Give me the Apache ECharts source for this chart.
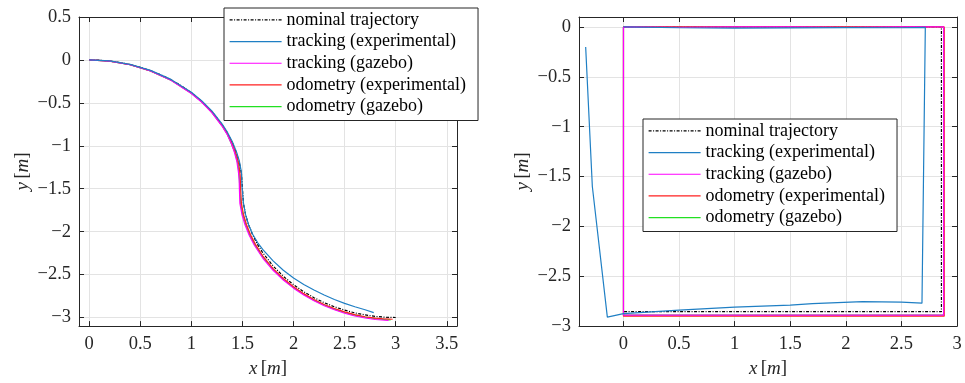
<!DOCTYPE html>
<html>
<head>
<meta charset="utf-8">
<script src="https://cdn.jsdelivr.net/npm/echarts@6/dist/echarts.min.js"></script>
<style>html,body{margin:0;padding:0;background:#fff}#c{width:965px;height:383px}</style>
</head>
<body>
<div id="c"></div>
<script>
// ---------- DATA ----------
const seriesNames = ['nominal trajectory','tracking (experimental)','tracking (gazebo)','odometry (experimental)','odometry (gazebo)'];

// left panel ticks
const leftXTicks = [0,0.5,1,1.5,2,2.5,3,3.5];
const leftYTicks = [-3,-2.5,-2,-1.5,-1,-0.5,0,0.5];
// right panel ticks
const rightXTicks = [0,0.5,1,1.5,2,2.5,3];
const rightYTicks = [-3,-2.5,-2,-1.5,-1,-0.5,0];

// left panel (S-curve) – [x, y]
const leftNominal = [[0,0],[0.1,-0.003],[0.2,-0.013],[0.3,-0.03],[0.4,-0.054],[0.5,-0.086],[0.6,-0.125],[0.7,-0.173],[0.8,-0.231],[0.9,-0.3],[1.0,-0.382],[1.1,-0.48],[1.2,-0.6],[1.3,-0.752],[1.35,-0.846],[1.4,-0.962],[1.44,-1.08],[1.47,-1.2],[1.49,-1.327],[1.5,-1.5],[1.51,-1.673],[1.53,-1.8],[1.56,-1.92],[1.6,-2.038],[1.65,-2.154],[1.7,-2.248],[1.8,-2.4],[1.9,-2.52],[2.0,-2.618],[2.1,-2.7],[2.2,-2.769],[2.3,-2.827],[2.4,-2.875],[2.5,-2.914],[2.6,-2.946],[2.7,-2.97],[2.8,-2.987],[2.9,-2.997],[3.0,-3.0]];
const leftTrackExp = [[0,0],[0.2,-0.012],[0.4,-0.052],[0.6,-0.122],[0.8,-0.227],[1.0,-0.377],[1.1,-0.474],[1.2,-0.593],[1.3,-0.744],[1.35,-0.836],[1.4,-0.95],[1.44,-1.065],[1.47,-1.18],[1.49,-1.31],[1.497,-1.5],[1.51,-1.67],[1.53,-1.8],[1.56,-1.92],[1.6,-2.03],[1.65,-2.13],[1.7,-2.21],[1.8,-2.34],[1.9,-2.45],[2.0,-2.54],[2.1,-2.615],[2.2,-2.68],[2.3,-2.737],[2.4,-2.79],[2.5,-2.835],[2.6,-2.875],[2.7,-2.91],[2.785,-2.943]];
const leftTrackGaz = [[0,0],[0.2,-0.014],[0.4,-0.056],[0.6,-0.128],[0.8,-0.236],[1.0,-0.39],[1.1,-0.49],[1.2,-0.613],[1.3,-0.77],[1.35,-0.867],[1.39,-0.97],[1.42,-1.07],[1.445,-1.18],[1.46,-1.3],[1.468,-1.4],[1.47,-1.5],[1.475,-1.67],[1.495,-1.8],[1.525,-1.92],[1.565,-2.04],[1.615,-2.155],[1.7,-2.31],[1.8,-2.45],[1.9,-2.564],[2.0,-2.658],[2.1,-2.738],[2.2,-2.805],[2.3,-2.863],[2.4,-2.91],[2.5,-2.95],[2.6,-2.982],[2.7,-3.006],[2.8,-3.023],[2.93,-3.035]];
const leftOdomExp = [[0,0],[0.2,-0.013],[0.4,-0.055],[0.6,-0.127],[0.8,-0.234],[1.0,-0.386],[1.1,-0.485],[1.2,-0.606],[1.3,-0.76],[1.35,-0.855],[1.4,-0.975],[1.44,-1.1],[1.465,-1.22],[1.478,-1.35],[1.482,-1.5],[1.49,-1.673],[1.51,-1.8],[1.54,-1.92],[1.58,-2.038],[1.63,-2.154],[1.7,-2.284],[1.8,-2.43],[1.9,-2.546],[2.0,-2.642],[2.1,-2.722],[2.2,-2.79],[2.3,-2.848],[2.4,-2.895],[2.5,-2.935],[2.6,-2.967],[2.7,-2.991],[2.8,-3.007],[2.9,-3.017],[2.97,-3.02]];
const leftOdomGaz = [[0,0],[0.2,-0.014],[0.4,-0.056],[0.6,-0.128],[0.8,-0.235],[1.0,-0.388],[1.1,-0.488],[1.2,-0.61],[1.3,-0.766],[1.35,-0.862],[1.39,-0.97],[1.43,-1.09],[1.455,-1.21],[1.468,-1.34],[1.474,-1.5],[1.482,-1.673],[1.502,-1.8],[1.532,-1.92],[1.572,-2.038],[1.622,-2.154],[1.7,-2.297],[1.8,-2.44],[1.9,-2.555],[2.0,-2.65],[2.1,-2.73],[2.2,-2.798],[2.3,-2.855],[2.4,-2.903],[2.5,-2.942],[2.6,-2.973],[2.7,-2.997],[2.8,-3.014],[2.9,-3.024],[2.95,-3.027]];

// right panel (square) – [x, y]
const rightNominal = [[0,0],[2.86,0],[2.86,-2.855],[0,-2.855]];
const rightTrackExp = [[0,0],[0.5,-0.008],[1.0,-0.012],[1.5,-0.01],[2.0,-0.006],[2.5,-0.008],[2.715,-0.005],[2.685,-2.77],[2.5,-2.76],[2.15,-2.755],[1.7,-2.775],[1.5,-2.79],[1.0,-2.81],[0.5,-2.84],[0,-2.875],[-0.145,-2.91],[-0.28,-1.6],[-0.34,-0.2]];
const rightTrackGaz = [[0,0],[0.5,-0.003],[1.0,0],[1.5,0],[2.0,-0.003],[2.5,0],[2.88,0],[2.88,-2.89],[0,-2.89],[0,0]];
const rightOdomExp = [[0,0],[2.885,0],[2.885,-2.9],[0,-2.9],[0,0]];
const rightOdomGaz = [[0,0],[2.88,0],[2.88,-2.89],[0,-2.89],[0,0]];

// ---------- STYLE ----------
const FONT = 'Liberation Serif';
const AX = '#262626';
const colors = {nom:'#000000', te:'#1f7fc4', tg:'#ff00ff', oe:'#ff2020', og:'#22e022'};
const fmt = v => { const r = Math.round(v*1000)/1000; return r < 0 ? '\u2212' + Math.abs(r) : String(r); };
const nameRich = { i:{fontFamily:FONT, fontStyle:'italic', fontSize:19, color:AX}, n:{fontFamily:FONT, fontSize:19, color:AX} };

function mainX(grid, min, max, ticks) {
  return {type:'value', gridIndex:grid, min, max, position:'bottom',
    axisLine:{show:true, onZero:false, lineStyle:{color:AX, width:1}},
    axisTick:{show:true, inside:true, length:5, customValues:ticks, lineStyle:{color:AX}},
    axisLabel:{show:true, customValues:ticks, formatter:fmt, fontFamily:FONT, fontSize:18.5, color:AX, margin:9},
    splitLine:{show:true, lineStyle:{color:'#e3e3e3', width:1}},
    name:'{i|x} {n|[}{i|m}{n|]}', nameLocation:'middle', nameGap:28, nameTextStyle:{rich:nameRich}};
}
function mirX(grid, min, max, ticks) {
  return {type:'value', gridIndex:grid, min, max, position:'top',
    axisLine:{show:true, onZero:false, lineStyle:{color:AX, width:1}},
    axisTick:{show:true, inside:true, length:5, customValues:ticks, lineStyle:{color:AX}},
    axisLabel:{show:false}, splitLine:{show:false}};
}
function mainY(grid, min, max, ticks) {
  return {type:'value', gridIndex:grid, min, max, position:'left',
    axisLine:{show:true, onZero:false, lineStyle:{color:AX, width:1}},
    axisTick:{show:true, inside:true, length:5, customValues:ticks, lineStyle:{color:AX}},
    axisLabel:{show:true, customValues:ticks, formatter:fmt, fontFamily:FONT, fontSize:18.5, color:AX, margin:8},
    splitLine:{show:true, lineStyle:{color:'#e3e3e3', width:1}},
    name:'{i|y} {n|[}{i|m}{n|]}', nameLocation:'middle', nameRotate:90, nameGap:47, nameTextStyle:{rich:nameRich}};
}
function mirY(grid, min, max, ticks) {
  return {type:'value', gridIndex:grid, min, max, position:'right',
    axisLine:{show:true, onZero:false, lineStyle:{color:AX, width:1}},
    axisTick:{show:true, inside:true, length:5, customValues:ticks, lineStyle:{color:AX}},
    axisLabel:{show:false}, splitLine:{show:false}};
}

function line(name, data, xi, yi, color, dashed, z) {
  return {type:'line', name, data, xAxisIndex:xi, yAxisIndex:yi, showSymbol:false, symbol:'none', symbolSize:0,
    smooth:false, clip:true, z,
    lineStyle:{color, width:1.2, type: dashed ? [3,1.5,1,1.5] : 'solid'},
    itemStyle:{color}, emphasis:{disabled:true}};
}

const legendBase = {orient:'vertical', selectedMode:false, data:seriesNames,
  backgroundColor:'#ffffff', borderColor:AX, borderWidth:1, borderRadius:0,
  padding:[1,12,3,5], itemWidth:52, itemHeight:14, itemGap:0,
  itemStyle:{opacity:0}, lineStyle:{width:1.2},
  textStyle:{fontFamily:FONT, fontSize:18, color:'#000', lineHeight:21.7}, z:10};

const option = {
  animation:false,
  backgroundColor:'#ffffff',
  grid:[
    {left:79, top:17, width:378, height:315},
    {left:579, top:17, width:378, height:315}
  ],
  xAxis:[
    mainX(0,-0.1,3.6,leftXTicks), mirX(0,-0.1,3.6,leftXTicks),
    mainX(1,-0.4,3,rightXTicks), mirX(1,-0.4,3,rightXTicks)
  ],
  yAxis:[
    mainY(0,-3.1,0.5,leftYTicks), mirY(0,-3.1,0.5,leftYTicks),
    mainY(1,-3,0.1,rightYTicks), mirY(1,-3,0.1,rightYTicks)
  ],
  legend:[
    Object.assign({}, legendBase, {left:224, top:8}),
    Object.assign({}, legendBase, {left:643, top:119})
  ],
  series:[
    line(seriesNames[0], leftNominal, 0, 0, colors.nom, true, 2),
    line(seriesNames[4], leftOdomGaz, 0, 0, colors.og, false, 3),
    line(seriesNames[3], leftOdomExp, 0, 0, colors.oe, false, 4),
    line(seriesNames[2], leftTrackGaz, 0, 0, colors.tg, false, 5),
    line(seriesNames[1], leftTrackExp, 0, 0, colors.te, false, 6),
    line(seriesNames[0], rightNominal, 2, 2, colors.nom, true, 2),
    line(seriesNames[4], rightOdomGaz, 2, 2, colors.og, false, 3),
    line(seriesNames[3], rightOdomExp, 2, 2, colors.oe, false, 4),
    line(seriesNames[2], rightTrackGaz, 2, 2, colors.tg, false, 5),
    line(seriesNames[1], rightTrackExp, 2, 2, colors.te, false, 6)
  ]
};
const chart = echarts.init(document.getElementById('c'), null, {renderer:'canvas'});
chart.setOption(option);
</script>
</body>
</html>
